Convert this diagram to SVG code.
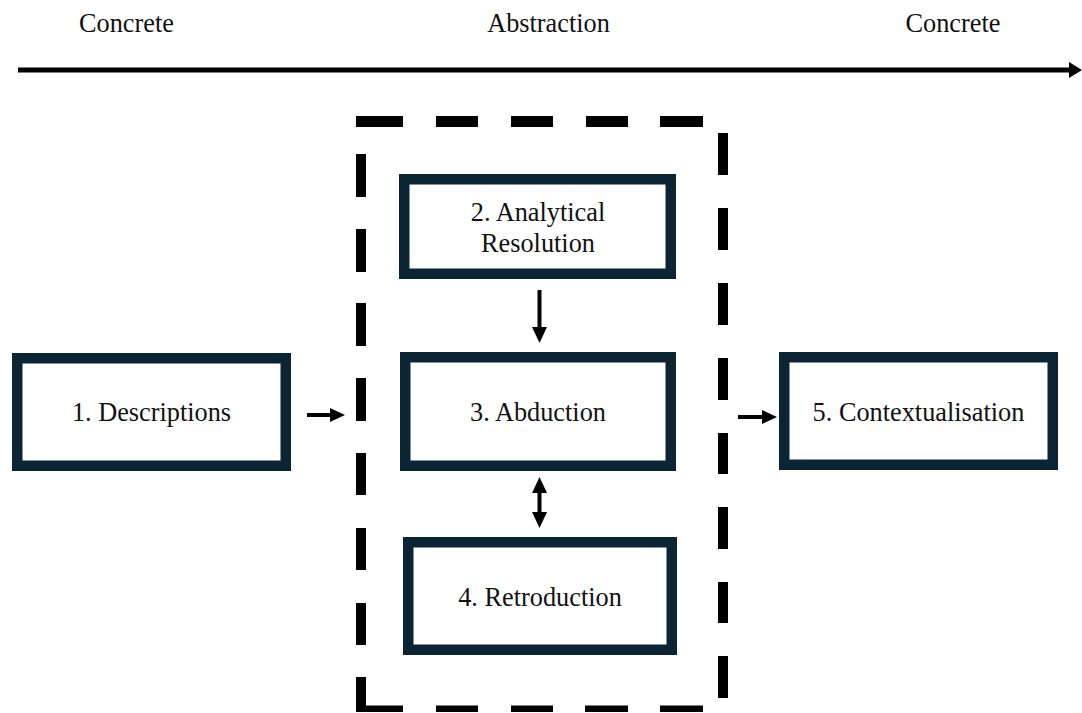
<svg xmlns="http://www.w3.org/2000/svg" width="1082" height="713" viewBox="0 0 1082 713">
  <style>
    .lbl { font-family: "Liberation Serif", "Times New Roman", serif; font-size: 26.3px; fill: #111; text-anchor: middle; }
    .box { fill: #ffffff; stroke: #0b2535; stroke-width: 10.5; }
    .dash { fill: #000000; }
    .conn { stroke: #000000; stroke-width: 4; fill: none; }
    .head { fill: #000000; }
  </style>

  <rect width="1082" height="713" fill="#ffffff"/>

  <!-- axis: concrete -> abstraction -> concrete -->
  <g id="axis">
    <text class="lbl" x="126.5" y="32">Concrete</text>
    <text class="lbl" x="548.5" y="32">Abstraction</text>
    <text class="lbl" x="953" y="32">Concrete</text>
    <line x1="18" y1="70" x2="1071" y2="70" stroke="#000" stroke-width="5"/>
    <polygon class="head" points="1069,62 1082,70 1069,78"/>
  </g>

  <!-- dashed frame around the abstraction steps -->
  <g id="abstraction-frame">
    <!-- top -->
    <rect class="dash" x="356" y="116" width="47" height="11"/>
    <rect class="dash" x="436" y="116" width="42" height="11"/>
    <rect class="dash" x="511" y="116" width="42" height="11"/>
    <rect class="dash" x="586" y="116" width="42" height="11"/>
    <rect class="dash" x="660" y="116" width="43" height="11"/>
    <!-- left -->
    <rect class="dash" x="356" y="154" width="10" height="43"/>
    <rect class="dash" x="356" y="229" width="10" height="43"/>
    <rect class="dash" x="356" y="303" width="10" height="43"/>
    <rect class="dash" x="356" y="378" width="10" height="43"/>
    <rect class="dash" x="356" y="453" width="10" height="42"/>
    <rect class="dash" x="356" y="528" width="10" height="42"/>
    <rect class="dash" x="356" y="603" width="10" height="42"/>
    <rect class="dash" x="356" y="677" width="10" height="35"/>
    <!-- right -->
    <rect class="dash" x="718" y="133" width="10" height="42"/>
    <rect class="dash" x="718" y="208" width="10" height="42"/>
    <rect class="dash" x="718" y="283" width="10" height="42"/>
    <rect class="dash" x="718" y="358" width="10" height="42"/>
    <rect class="dash" x="718" y="433" width="10" height="41"/>
    <rect class="dash" x="718" y="507" width="10" height="42"/>
    <rect class="dash" x="718" y="582" width="10" height="41"/>
    <rect class="dash" x="718" y="656" width="10" height="42"/>
    <!-- bottom -->
    <rect class="dash" x="356" y="705.5" width="47" height="6.5"/>
    <rect class="dash" x="436" y="705.5" width="42" height="6.5"/>
    <rect class="dash" x="511" y="705.5" width="42" height="6.5"/>
    <rect class="dash" x="585" y="705.5" width="43" height="6.5"/>
    <rect class="dash" x="660" y="705.5" width="43" height="6.5"/>
  </g>

  <g id="node-descriptions">
    <rect class="box" x="17.25" y="358.25" width="268.5" height="107.5"/>
    <text class="lbl" x="151.5" y="421">1. Descriptions</text>
  </g>

  <g id="node-analytical-resolution">
    <rect class="box" x="404.25" y="179.25" width="266.5" height="94.5"/>
    <text class="lbl" x="538" y="220.5">2. Analytical</text>
    <text class="lbl" x="538" y="251.5">Resolution</text>
  </g>

  <g id="node-abduction">
    <rect class="box" x="405.25" y="357.25" width="265.5" height="108.5"/>
    <text class="lbl" x="538" y="420.5">3. Abduction</text>
  </g>

  <g id="node-retroduction">
    <rect class="box" x="408.25" y="542.25" width="263.5" height="107.5"/>
    <text class="lbl" x="540" y="605.5">4. Retroduction</text>
  </g>

  <g id="node-contextualisation">
    <rect class="box" x="784.25" y="357.25" width="268.5" height="107.5"/>
    <text class="lbl" x="918.5" y="421">5. Contextualisation</text>
  </g>

  <g id="connectors">
    <!-- descriptions -> frame -->
    <line class="conn" x1="307" y1="415" x2="332" y2="415"/>
    <polygon class="head" points="330,408 345,415 330,422"/>
    <!-- analytical resolution -> abduction -->
    <line class="conn" x1="539.5" y1="290" x2="539.5" y2="329"/>
    <polygon class="head" points="532,327 547,327 539.5,343"/>
    <!-- abduction <-> retroduction -->
    <line class="conn" x1="539.5" y1="490" x2="539.5" y2="514"/>
    <polygon class="head" points="539.5,477 547,493 532,493"/>
    <polygon class="head" points="532,512 547,512 539.5,528"/>
    <!-- frame -> contextualisation -->
    <line class="conn" x1="738" y1="417" x2="764" y2="417"/>
    <polygon class="head" points="762,410 777,417 762,424"/>
  </g>
</svg>
